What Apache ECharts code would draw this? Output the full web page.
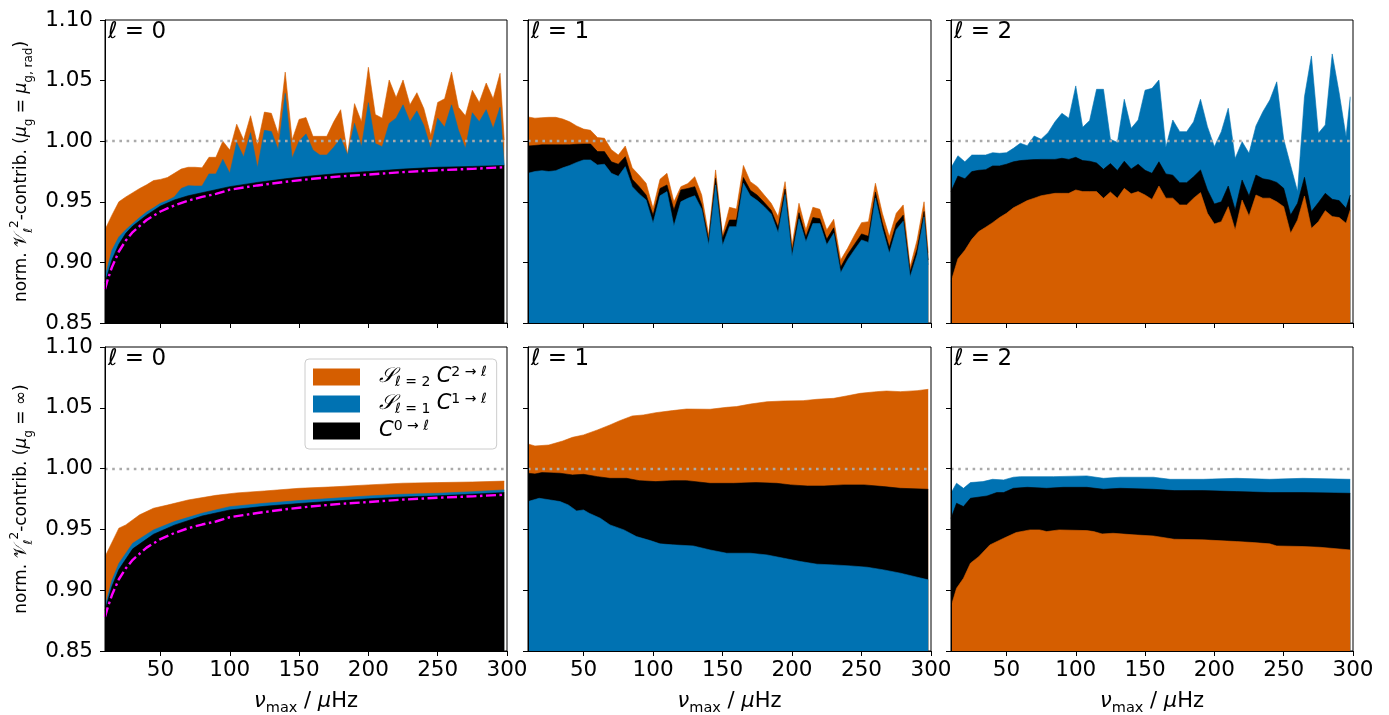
<!DOCTYPE html>
<html><head><meta charset="utf-8">
<script src="https://cdn.jsdelivr.net/npm/echarts@6/dist/echarts.min.js"></script>
<style>html,body{margin:0;padding:0;background:#fff}#c{width:1389px;height:715px}</style>
</head><body><div id="c"></div>
<script>
// ---------- data ----------
const XS = [10,15,20,25,30,35,40,45,50,55,60,65,70,75,80,85,90,95,100,105,110,115,120,125,130,135,140,145,150,155,160,165,170,175,180,185,190,195,200,205,210,215,220,225,230,235,240,245,250,255,260,265,270,275,280,285,290,295,298];
const X_TICKS = [50,100,150,200,250,300];

// l=0, mu_g = mu_g,rad (top-left)
const L0_RAD_ORANGE = [0.927,0.939,0.950,0.954,0.9575,0.961,0.964,0.9675,0.9685,0.970,
 0.9735,0.977,0.9785,0.9785,0.978,0.9867,0.9867,1.000,0.9927,1.014,
 1.001,1.021,0.997,1.024,1.023,1.006,1.057,1.001,1.018,1.0195,
 1.004,1.004,1.004,1.016,1.026,0.989,1.031,1.016,1.061,1.022,
 1.019,1.0505,1.036,1.0505,1.030,1.040,1.027,1.005,1.032,1.035,
 1.057,1.028,1.021,1.042,1.032,1.048,1.035,1.056,1.001];
const L0_RAD_BLUE = [0.888,0.910,0.921,0.927,0.932,0.937,0.9415,0.945,0.9488,0.951,
 0.954,0.961,0.9633,0.963,0.963,0.973,0.973,0.985,0.9735,0.999,
 0.987,1.007,0.978,1.009,1.008,0.993,1.0395,0.986,1.000,1.006,
 0.9927,0.9886,0.9886,0.995,1.0024,0.9886,1.0147,0.9955,1.0318,0.998,
 0.9955,1.0147,1.019,1.030,1.016,1.025,1.013,0.994,1.019,1.0115,
 1.030,1.009,0.994,1.0235,1.016,1.026,1.0105,1.028,0.980];
const L0_BLACK_X = [10,15,20,25,30,40,50,60,70,80,90,100,120,140,160,180,200,225,250,275,298];
const L0_RAD_BLACK = [0.883,0.902,0.915,0.924,0.930,0.939,0.9465,0.9515,0.955,0.9575,0.960,0.9625,0.966,0.969,0.9715,0.9735,0.975,0.977,0.9785,0.9792,0.980];
const MAG_X = [10,12,15,20,25,30,40,50,60,70,80,90,100,120,140,160,180,200,225,250,275,298];
const MAG = [0.878,0.886,0.896,0.909,0.918,0.925,0.935,0.942,0.947,0.951,0.954,0.9565,0.960,0.9635,0.9665,0.969,0.971,0.9725,0.9745,0.976,0.9772,0.9785];

// l=1, mu_g,rad (top-middle)
const L1_RAD_ORANGE = [1.020,1.019,1.0194,1.0197,1.0197,1.0183,1.016,1.0126,1.010,1.009,
 1.003,1.0024,0.993,0.9886,0.996,0.978,0.972,0.9653,0.9446,0.9686,
 0.9735,0.950,0.9625,0.965,0.9707,0.9556,0.9226,0.9763,0.9226,0.9455,
 0.944,0.980,0.9666,0.9625,0.9556,0.9488,0.9378,0.9666,0.9144,0.9488,
 0.9268,0.9455,0.9438,0.9268,0.9356,0.902,0.9116,0.9226,0.9328,0.9336,
 0.9653,0.9405,0.9213,0.9405,0.9474,0.8965,0.9185,0.950,0.908];
const L1_RAD_BLACK = [0.996,0.9965,0.997,0.997,0.997,0.997,0.997,0.9975,0.9977,0.9977,
 0.9914,0.9914,0.983,0.981,0.9872,0.9686,0.9625,0.9556,0.939,0.961,
 0.9639,0.9433,0.9598,0.961,0.9625,0.9474,0.9185,0.9694,0.9199,0.935,
 0.935,0.970,0.9595,0.9555,0.9495,0.943,0.929,0.9605,0.909,0.941,
 0.921,0.937,0.936,0.919,0.9285,0.896,0.9065,0.915,0.9235,0.9215,
 0.958,0.9325,0.9125,0.932,0.939,0.8925,0.911,0.942,0.902];
const L1_RAD_BLUE = [0.9735,0.975,0.9757,0.975,0.9757,0.978,0.980,0.9825,0.9845,0.9845,
 0.9804,0.981,0.9735,0.971,0.979,0.9625,0.9565,0.9515,0.9323,0.955,
 0.9584,0.930,0.950,0.9529,0.955,0.9438,0.9144,0.9639,0.914,0.9295,
 0.9295,0.9653,0.955,0.951,0.946,0.940,0.9245,0.956,0.905,0.936,
 0.917,0.932,0.932,0.9145,0.924,0.8915,0.902,0.9105,0.9185,0.9165,
 0.953,0.928,0.9075,0.927,0.934,0.888,0.9065,0.9375,0.898];

// l=2, mu_g,rad (top-right)
const L2_RAD_BLUE = [0.978,0.988,0.983,0.9886,0.9886,0.9886,0.9905,0.990,0.9905,0.9941,
 0.9983,0.9963,1.0043,1.0016,1.007,1.016,1.023,1.019,1.0456,1.0115,
 1.017,1.0428,1.0428,1.0016,0.999,1.0346,1.0106,1.0175,1.0421,1.0436,
 1.0505,0.995,1.0175,1.0079,1.0079,1.016,1.0346,1.012,0.9955,1.0079,
 1.0272,0.9858,0.9996,0.990,1.0126,1.0244,1.034,1.049,1.0016,0.980,
 0.9584,1.0367,1.0703,1.0065,1.0134,1.072,1.040,1.0037,1.0367];
const L2_RAD_BLACK = [0.9584,0.9713,0.969,0.9749,0.976,0.9765,0.9796,0.9796,0.981,0.983,
 0.984,0.9845,0.9848,0.985,0.985,0.985,0.9859,0.985,0.9867,0.984,
 0.9835,0.982,0.9768,0.9815,0.9758,0.9835,0.977,0.981,0.976,0.9735,
 0.983,0.973,0.972,0.9658,0.9658,0.9707,0.9763,0.9598,0.9482,0.950,
 0.963,0.9433,0.968,0.9548,0.9721,0.969,0.968,0.966,0.9611,0.9391,
 0.9488,0.9702,0.9419,0.9493,0.957,0.9521,0.951,0.9446,0.9556];
const L2_RAD_ORANGE = [0.884,0.903,0.910,0.919,0.9254,0.929,0.9328,0.937,0.9405,0.945,
 0.948,0.951,0.953,0.955,0.956,0.957,0.957,0.957,0.9598,0.9584,
 0.9584,0.9584,0.9529,0.958,0.9529,0.9611,0.9566,0.9584,0.9556,0.952,
 0.963,0.953,0.953,0.9474,0.9474,0.953,0.9576,0.9405,0.9317,0.9336,
 0.946,0.9268,0.9515,0.9383,0.9556,0.953,0.953,0.950,0.946,0.924,
 0.935,0.9548,0.9281,0.9336,0.9427,0.9378,0.937,0.9323,0.9433];

// l=0, mu_g = inf (bottom-left)
const L0_INF_ORANGE_X = [10,20,25,35,45,55,70,90,105,125,150,175,200,225,250,275,298];
const L0_INF_ORANGE = [0.9276,0.951,0.9537,0.962,0.9674,0.970,0.9742,0.978,0.980,0.9816,0.9838,0.985,0.9866,0.988,0.9885,0.989,0.9897];
const L0_INF_BLUE_X = [10,15,20,30,45,60,80,100,125,150,175,200,225,250,275,298];
const L0_INF_BLUE = [0.8865,0.908,0.922,0.9386,0.9496,0.9564,0.9633,0.9687,0.9715,0.9737,0.9756,0.9775,0.9789,0.9797,0.981,0.9825];
const L0_INF_BLACK = [0.8835,0.903,0.917,0.934,0.946,0.9535,0.961,0.966,0.969,0.9713,0.9733,0.9752,0.9767,0.9776,0.979,0.9803];

// l=1, mu_g = inf (bottom-middle)
const L1_INF_ORANGE_X = [10,15,25,35,42,50,60,69,76,85,93,102,114,124,141,153,160,170,182,194,208,218,230,239,249,261,268,278,290,298];
const L1_INF_ORANGE = [1.0203,1.0186,1.0194,1.0227,1.0257,1.0277,1.0318,1.0359,1.0394,1.0433,1.0441,1.046,1.0477,1.049,1.0488,1.0504,1.051,1.0531,1.055,1.0556,1.0559,1.057,1.0578,1.0597,1.0619,1.0633,1.0638,1.0633,1.0641,1.0652];
const L1_INF_BLACK_X = [10,15,20,33,42,50,60,69,81,90,102,114,124,141,158,174,189,199,211,223,237,252,266,278,298];
const L1_INF_BLACK = [0.9962,0.9956,0.9967,0.9962,0.9948,0.9953,0.9934,0.992,0.992,0.9901,0.9893,0.9901,0.9901,0.9879,0.9879,0.9885,0.9879,0.9866,0.9857,0.9857,0.9866,0.9866,0.9852,0.9838,0.983];
const L1_INF_BLUE_X = [10,18,26,33,39,45,50,54,62,69,79,88,98,105,114,129,141,153,170,182,194,206,218,230,242,254,266,278,290,298];
const L1_INF_BLUE = [0.9729,0.9756,0.9742,0.9729,0.9701,0.9652,0.966,0.9633,0.9592,0.9537,0.9496,0.9441,0.9408,0.9381,0.9373,0.9364,0.9331,0.9304,0.9304,0.929,0.9263,0.9236,0.9214,0.9208,0.92,0.9189,0.9167,0.914,0.9107,0.9085];

// l=2, mu_g = inf (bottom-right)
const L2_INF_BLUE_X = [10,14,19,24,33,40,48,55,60,84,108,120,132,156,168,192,216,240,264,298];
const L2_INF_BLUE = [0.980,0.988,0.9838,0.9885,0.9893,0.9912,0.9907,0.9929,0.9934,0.9934,0.994,0.992,0.9929,0.9929,0.9912,0.9912,0.992,0.9912,0.992,0.9912];
const L2_INF_BLACK_X = [10,14,19,24,36,43,48,55,65,79,91,108,120,132,156,171,192,216,240,264,298];
const L2_INF_BLACK = [0.959,0.9715,0.9688,0.9756,0.9775,0.9803,0.9803,0.9838,0.9846,0.9838,0.9846,0.9846,0.983,0.9838,0.983,0.9819,0.9819,0.9811,0.9803,0.9803,0.9797];
const L2_INF_ORANGE_X = [10,14,19,24,30,38,48,57,67,74,79,88,108,113,119,127,142,156,171,192,216,228,240,245,264,276,298];
const L2_INF_ORANGE = [0.8865,0.9016,0.9098,0.9222,0.9276,0.9372,0.9427,0.9474,0.9496,0.9496,0.9482,0.9496,0.949,0.9482,0.9463,0.9468,0.9455,0.9446,0.9419,0.9414,0.94,0.9392,0.9381,0.9364,0.9359,0.9353,0.9331];

const PANEL_LABELS = ['0','1','2','0','1','2'];
const LEGEND_NAMES = ['S2','S1','C0'];
const LEGEND_TEXT = {
  S2: '{s|𝒮}{sub|ℓ = 2} {c|C}{sup|2 → ℓ}',
  S1: '{s|𝒮}{sub|ℓ = 1} {c|C}{sup|1 → ℓ}',
  C0: '{c|C}{sup|0 → ℓ}'
};

// ---------- styling / layout ----------
const FONT = 'DejaVu Sans';
const ORANGE = '#d55e00', BLUE = '#0072b2', BLACK = '#000000', MAGENTA = '#ff00ff';
const COLORS = {S2: ORANGE, S1: BLUE, C0: BLACK};
const GRIDS = [[105,20,402,303],[528,20,403,303],[951,20,402,303],[105,347,402,304],[528,347,403,304],[951,347,402,304]];

const chart = echarts.init(document.getElementById('c'), null, {renderer: 'canvas'});

function pairs(xs, ys) { return xs.map((x, i) => [x, ys[i]]); }
function area(gi, name, xs, ys, z) {
  const color = COLORS[name];
  return {
    type: 'line', name, xAxisIndex: gi, yAxisIndex: gi, data: pairs(xs, ys),
    symbol: 'none', showSymbol: false, color,
    lineStyle: {width: 0.6, color}, itemStyle: {color},
    areaStyle: {color, opacity: 1, origin: 'start'},
    z, silent: true, animation: false
  };
}
function magenta(gi) {
  return {
    type: 'line', name: 'mag', xAxisIndex: gi, yAxisIndex: gi, data: pairs(MAG_X, MAG),
    symbol: 'none', showSymbol: false, smooth: false,
    lineStyle: {width: 2.4, color: MAGENTA, type: [10, 3.5, 2.5, 3.5]},
    z: 6, silent: true, animation: false
  };
}
function refLine(gi) {
  return {
    type: 'line', name: 'ref', xAxisIndex: gi, yAxisIndex: gi, data: [],
    z: 7, silent: true, animation: false,
    markLine: {
      silent: true, symbol: ['none', 'none'], label: {show: false}, animation: false,
      lineStyle: {color: '#aaaaaa', width: 2.4, type: [2.6, 4.6]},
      data: [{yAxis: 1}]
    }
  };
}

const series = [
  area(0, 'S2', XS, L0_RAD_ORANGE, 2), area(0, 'S1', XS, L0_RAD_BLUE, 3), area(0, 'C0', L0_BLACK_X, L0_RAD_BLACK, 4), magenta(0),
  area(1, 'S2', XS, L1_RAD_ORANGE, 2), area(1, 'C0', XS, L1_RAD_BLACK, 3), area(1, 'S1', XS, L1_RAD_BLUE, 4),
  area(2, 'S1', XS, L2_RAD_BLUE, 2), area(2, 'C0', XS, L2_RAD_BLACK, 3), area(2, 'S2', XS, L2_RAD_ORANGE, 4),
  area(3, 'S2', L0_INF_ORANGE_X, L0_INF_ORANGE, 2), area(3, 'S1', L0_INF_BLUE_X, L0_INF_BLUE, 3), area(3, 'C0', L0_INF_BLUE_X, L0_INF_BLACK, 4), magenta(3),
  area(4, 'S2', L1_INF_ORANGE_X, L1_INF_ORANGE, 2), area(4, 'C0', L1_INF_BLACK_X, L1_INF_BLACK, 3), area(4, 'S1', L1_INF_BLUE_X, L1_INF_BLUE, 4),
  area(5, 'S1', L2_INF_BLUE_X, L2_INF_BLUE, 2), area(5, 'C0', L2_INF_BLACK_X, L2_INF_BLACK, 3), area(5, 'S2', L2_INF_ORANGE_X, L2_INF_ORANGE, 4)
];
for (let g = 0; g < 6; g++) series.push(refLine(g));

const subsup = {
  sub: {fontSize: 12, lineHeight: 12, verticalAlign: 'bottom', fontFamily: FONT},
  sup: {fontSize: 12, lineHeight: 12, verticalAlign: 'top', fontFamily: FONT},
  v: {fontSize: 17, lineHeight: 26, fontFamily: FONT},
  m: {fontSize: 17, lineHeight: 26, fontStyle: 'italic', fontFamily: FONT}
};

const grids = GRIDS.map(g => ({left: g[0], top: g[1], width: g[2], height: g[3], show: true,
  borderColor: '#000', borderWidth: 1, backgroundColor: 'transparent', containLabel: false, outerBoundsMode: 'none'}));

const xAxes = GRIDS.map((g, i) => ({
  type: 'value', gridIndex: i, min: 10, max: 300, z: 10,
  axisLine: {show: true, onZero: false, lineStyle: {color: '#000', width: 1}},
  axisTick: {show: true, length: 5, customValues: X_TICKS, lineStyle: {color: '#000', width: 1}},
  axisLabel: {show: i >= 3, customValues: X_TICKS, margin: 8, fontSize: 21.5, fontFamily: FONT, color: '#000'},
  splitLine: {show: false},
  name: i >= 3 ? '{m|ν}{sub|max} / {m|μ}Hz' : '',
  nameLocation: 'middle', nameGap: 37,
  nameTextStyle: {fontSize: 21, fontFamily: FONT, color: '#000', lineHeight: 28,
    rich: {m: {fontSize: 21, fontStyle: 'italic', lineHeight: 28, fontFamily: FONT},
           sub: {fontSize: 14.5, lineHeight: 14, verticalAlign: 'bottom', fontFamily: FONT}}}
}));

const yAxes = GRIDS.map((g, i) => ({
  type: 'value', gridIndex: i, min: 0.85, max: 1.10, interval: 0.05, z: 10,
  axisLine: {show: true, onZero: false, lineStyle: {color: '#000', width: 1}},
  axisTick: {show: true, length: 5, lineStyle: {color: '#000', width: 1}},
  axisLabel: {show: i % 3 === 0, margin: 12, fontSize: 21.5, fontFamily: FONT, color: '#000',
    formatter: v => v.toFixed(2)},
  splitLine: {show: false},
  name: i === 0 ? 'norm. {v|𝒱}{sub|ℓ}{sup|2}-contrib. ({m|μ}{sub|g} = {m|μ}{sub|g, rad})'
      : (i === 3 ? 'norm. {v|𝒱}{sub|ℓ}{sup|2}-contrib. ({m|μ}{sub|g} = ∞)' : ''),
  nameLocation: 'middle', nameGap: 70, nameRotate: 90,
  nameTextStyle: {fontSize: 17, fontFamily: FONT, color: '#000', lineHeight: 26, rich: subsup}
}));

const graphics = GRIDS.map((g, i) => ({
  type: 'text', left: g[0] + 3, top: g[1] + 1, z: 100, silent: true,
  style: {text: '{i|ℓ} = ' + PANEL_LABELS[i], fill: '#000', fontSize: 23, fontFamily: FONT,
    rich: {i: {fontStyle: 'italic', fontSize: 23, fontFamily: FONT}}}
}));

chart.setOption({
  backgroundColor: '#ffffff',
  animation: false,
  grid: grids, xAxis: xAxes, yAxis: yAxes, series,
  graphic: graphics,
  legend: {
    data: LEGEND_NAMES, orient: 'vertical', left: 305, top: 359, icon: 'rect',
    itemWidth: 47, itemHeight: 17, itemGap: 3, selectedMode: false,
    padding: [6, 10, 6, 8], backgroundColor: 'rgba(255,255,255,0.85)',
    borderColor: '#cccccc', borderWidth: 1, borderRadius: 4,
    formatter: name => LEGEND_TEXT[name],
    textStyle: {fontFamily: FONT, fontSize: 20, color: '#000', lineHeight: 24, padding: [0, 0, 0, 14],
      rich: {
        s: {fontSize: 21, fontStyle: 'italic', lineHeight: 24, fontFamily: FONT},
        c: {fontSize: 21, fontStyle: 'italic', lineHeight: 24, fontFamily: FONT},
        sub: {fontSize: 14, lineHeight: 13, verticalAlign: 'bottom', fontFamily: FONT},
        sup: {fontSize: 14, lineHeight: 13, verticalAlign: 'top', fontFamily: FONT}
      }}
  }
});
</script></body></html>
